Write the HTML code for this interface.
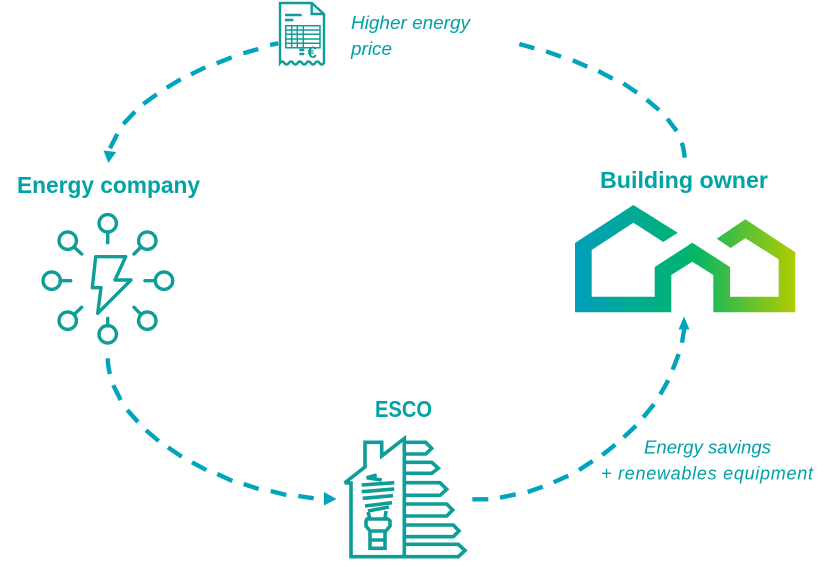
<!DOCTYPE html>
<html>
<head>
<meta charset="utf-8">
<style>
html,body{margin:0;padding:0;background:#fff}
svg{display:block}
text{font-family:"Liberation Sans",sans-serif}
</style>
</head>
<body>
<svg width="836" height="567" viewBox="0 0 836 567" xmlns="http://www.w3.org/2000/svg">
<defs>
<linearGradient id="g" gradientUnits="userSpaceOnUse" x1="575" y1="0" x2="796" y2="0">
<stop offset="0" stop-color="#009FBC"/>
<stop offset="0.53" stop-color="#00B56B"/>
<stop offset="1" stop-color="#B2CC00"/>
</linearGradient>
</defs>

<!-- dashed connectors -->
<g fill="none" stroke="#00A5BD" stroke-width="4.4">
<path d="M270,45 L278.3,43.3 M243.3,53.3 L258.3,49 M216.7,63.3 L231.7,57.3 M191,74.3 L205.3,67.3 M166.7,87.7 L180.7,79.3 M143.3,104 L156.7,94.3 M123.3,124 L135,111.7 M110,148.3 L117.3,134"/>
<path d="M519.3,44 L534.3,48.3 M546,51.3 L561,56.7 M572.7,60.3 L587.3,66.7 M598.3,71 L612.7,78.7 M623.3,83.3 L637,92.7 M646.7,99.7 L659,110 M667.3,118.7 L676.7,131 M681.7,142.7 Q684,149 684.7,157.7"/>
<path d="M107.7,358.3 Q108,367 110,374 M113.3,385.3 L120.7,400 M127.3,410 L138,422 M146,430.3 L158.7,441 M168,447.3 L181.7,456.7 M192,462.3 L206.3,470 M217.3,474 L232.3,481 M243.7,484 L258.7,489 M270.7,491 L286.3,495 M298.3,496 L313.7,498.3"/>
<path d="M472.3,499.3 L488.3,499.3 M500,497.7 L515.7,494.3 M527.7,492 L542.7,486.7 M553.7,482.3 L568.3,475.7 M579,470 L592.7,461 M602.3,455 L615.3,444.7 M623.7,437.3 L636,425.7 M643.3,417.3 L654,404.3 M660.3,394.3 L668.3,380.3 M672.7,369.7 L678.7,354 M682,342.7 L684.3,328.3"/>
</g>
<g fill="#00A5BD">
<polygon points="103.5,150.5 116.2,152 108.3,163"/>
<polygon points="324,492 336.5,499 324,505.5"/>
<polygon points="678.5,329.5 689.5,329.5 684,316.5"/>
</g>

<!-- receipt -->
<g fill="none" stroke="#0E9D98" stroke-width="2.4">
<path d="M280,3 H311.7 L324,14 V63 q-2.2,3 -4.4,0 t-4.4,0 t-4.4,0 t-4.4,0 t-4.4,0 t-4.4,0 t-4.4,0 t-4.4,0 t-4.4,0 t-4.4,0 Z" fill="#fff"/>
<path d="M311.7,3 V14 H324"/>
<path d="M285,15 H301.7 M285,20 H293.3"/>
<path stroke-width="1.5" d="M285.7,25.7 H320 V47.7 H285.7 Z M285.7,30 H320 M285.7,34.3 H320 M285.7,39 H320 M285.7,43.3 H320 M291.7,25.7 V47.7 M297.3,25.7 V47.7 M303.3,25.7 V47.7"/>
<path stroke-width="2.4" d="M299.3,50 H304.3 M299.3,54 H304.3"/>
</g>
<text x="307.5" y="58" font-size="17" font-weight="bold" fill="#0E9D98">€</text>

<!-- energy company icon -->
<g fill="none" stroke="#0E9D98" stroke-width="3.4" stroke-linejoin="round" stroke-linecap="round">
<polygon points="95.7,256.7 125.7,256.7 115,280 131,280 97.7,313.3 101,287.7 92.3,287.7"/>
<circle cx="107.7" cy="223.3" r="8.7"/><path d="M107.7,232 V242.7"/>
<circle cx="67.7" cy="240.7" r="8.7"/><path d="M74,247 L81.7,254"/>
<circle cx="147.3" cy="240.7" r="8.7"/><path d="M141,247 L134,254"/>
<circle cx="51.7" cy="280.7" r="8.7"/><path d="M60,280.7 H70.7"/>
<circle cx="164" cy="280.7" r="8.7"/><path d="M155.5,280.7 H145"/>
<circle cx="67.7" cy="320.7" r="8.7"/><path d="M74,314.5 L81.7,307.3"/>
<circle cx="147.3" cy="320.7" r="8.7"/><path d="M141,314.5 L134,307.3"/>
<circle cx="107.7" cy="334.3" r="8.7"/><path d="M107.7,326 V318.3"/>
</g>

<!-- ESCO icon -->
<g fill="none" stroke="#0E9D98" stroke-width="3.6" stroke-linejoin="miter">
<path d="M344.5,483 L365,467 V442.3 H381.7 V456 L404.3,438.5 V556.7"/>
<path d="M344.5,483 L351,483 V556.7 H404.3"/>
<path d="M404.3,442.3 H425.7 L431.7,448.3 L425.7,454 H404.3"/>
<path d="M404.3,462.3 H431.7 L438.3,468.3 L431.7,473.3 H404.3"/>
<path d="M404.3,482.7 H440 L446.7,489.3 L440,495.3 H404.3"/>
<path d="M404.3,504 H446.7 L452.7,510 L446.7,516 H404.3"/>
<path d="M404.3,525 H453.3 L459,531 L453.3,536.7 H404.3"/>
<path d="M404.3,544.3 H458.3 L465,550.5 L458.3,556.7 H404.3"/>
<path d="M376.7,475 L366.7,477.7 L381.7,480 M361.7,485 L394.3,482.7 M361.7,491.7 L394.3,489 M362.7,498.3 L393,495.7 M365,506 L392,502.7 M368,511 L389,507"/>
<path d="M368,512 L370,519 M386,511 L385,519"/>
<path d="M367,519 H388 L390,521 V526 L386,531 H370 L366,526 V521 Z"/>
<path d="M370,531 V548.3 H385 V531 M370,540 H385"/>
</g>

<!-- building owner icon -->
<polygon fill="url(#g)" points="575,243 633.3,205 677.7,232.7 663.3,242 633.3,222.7 591.7,250 591.7,296.7 654.7,296.7 654.7,267 692.3,242.7 730,267 730,296.7 778.7,296.7 778.7,259.3 745.3,238.3 730.7,248 716.7,238.7 745.3,219.3 795.3,252.3 795.3,312.3 713.3,312.3 713.3,275 692.3,261.7 671.3,275 671.3,312.3 575,312.3"/>

<!-- labels -->
<g fill="#00A3A6" font-weight="bold" font-size="23">
<text x="17" y="193" textLength="183" lengthAdjust="spacingAndGlyphs">Energy company</text>
<text x="600" y="188" textLength="168" lengthAdjust="spacingAndGlyphs">Building owner</text>
<text x="375" y="417" textLength="57" lengthAdjust="spacingAndGlyphs">ESCO</text>
</g>
<g fill="#00A0A6" font-style="italic" font-size="18">
<text x="351" y="29" textLength="119" lengthAdjust="spacingAndGlyphs">Higher energy</text>
<text x="351" y="55" textLength="41" lengthAdjust="spacingAndGlyphs">price</text>
<text x="644" y="453.5" textLength="127" lengthAdjust="spacingAndGlyphs">Energy savings</text>
<text x="601" y="479.5" textLength="212" lengthAdjust="spacing">+ renewables equipment</text>
</g>
</svg>
</body>
</html>
